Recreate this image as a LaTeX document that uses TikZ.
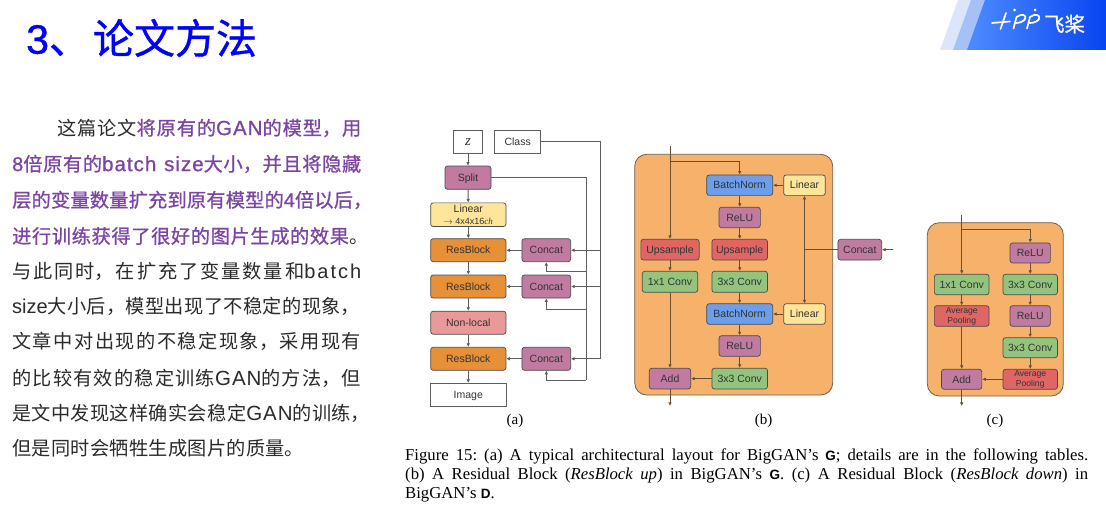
\documentclass[tikz,border=0pt]{standalone}
\usepackage{fontspec}
\usetikzlibrary{arrows.meta}
\setmainfont{Noto Sans CJK SC}
\newfontfamily\heavycjk[FakeBold=0.9]{Noto Sans CJK SC}
\newfontfamily\titlecjk[FakeBold=0.9]{Noto Sans CJK SC}
\newfontfamily\lat{Liberation Sans}
\newfontfamily\latw[LetterSpace=5]{Liberation Sans}
\newfontfamily\latwide[LetterSpace=10]{Liberation Sans}
\newfontfamily\heavylat[FakeBold=0.8]{Liberation Sans}
\newfontfamily\heavylatw[FakeBold=0.8,LetterSpace=5]{Liberation Sans}
\newfontfamily\titlelat[FakeBold=0.9]{Liberation Sans}
\newfontfamily\rmn{Liberation Serif}
\XeTeXlinebreaklocale "zh"
\XeTeXlinebreakskip=0pt plus 2pt
\tolerance=9999
\hbadness=10000
\hfuzz=5pt
\frenchspacing
\definecolor{titleblue}{HTML}{0000FF}
\definecolor{bodyblack}{HTML}{2B2B2B}
\definecolor{accent}{HTML}{7C45A4}
\definecolor{edge}{HTML}{4A4A4A}
\definecolor{wirec}{HTML}{5E5E5E}
\definecolor{panelwire}{HTML}{6A4F35}
\definecolor{labelc}{HTML}{333333}
\definecolor{fpurple}{HTML}{C27BA0}
\definecolor{forange}{HTML}{E69138}
\definecolor{fpanel}{HTML}{F6B26B}
\definecolor{fblue}{HTML}{6D9EEB}
\definecolor{fred}{HTML}{E06666}
\definecolor{fgreen}{HTML}{93C47D}
\definecolor{fyellow}{HTML}{FFE599}
\definecolor{fpink}{HTML}{EA9999}
\definecolor{bandlight}{HTML}{DCE6FB}
\definecolor{bandmid}{HTML}{A6C1F8}
\definecolor{bannerl}{HTML}{4E8CFF}
\definecolor{bannerr}{HTML}{0844F0}
% one justified line of text, stretched to the given width
\newcommand\fitline[2]{\parbox{#1}{\parfillskip=0pt\relax #2}}
\newcommand\la[1]{{\lat\fontsize{20}{23}\selectfont #1}}
\newcommand\law[1]{{\latw\fontsize{20.5}{23}\selectfont #1}}
\newcommand\lawide[1]{{\latwide\fontsize{20}{23}\selectfont #1}}
\newcommand\hla[1]{{\heavylat\fontsize{20}{23}\selectfont #1}}
\newcommand\hlaw[1]{{\heavylatw\fontsize{20.5}{23}\selectfont #1}}
\newcommand\acc[1]{{\color{accent}\heavycjk #1}}
\newcommand\sfb[1]{{\lat\bfseries\fontsize{13.5}{15}\selectfont #1}}
\tikzset{
  x=1pt,y=-1pt,
  bodytext/.style={anchor=west,inner sep=0pt,text=bodyblack,font=\fontsize{19.2}{23}\selectfont},
  captext/.style={anchor=west,inner sep=0pt,text=black,font=\rmn\fontsize{16.7}{19}\selectfont},
  sublabel/.style={inner sep=0pt,text=black,font=\rmn\fontsize{15}{18}\selectfont},
  flowbase/.style={draw=edge,rounded corners=2.5pt,line width=.7pt,inner sep=0pt,text=labelc,
    align=center,font=\lat\fontsize{10.5}{11.5}\selectfont},
  flow/.style={flowbase,text height=10pt,text depth=2.4pt},
  plain/.style={flow,sharp corners,draw=wirec,fill=white},
  pooling/.style={flowbase,fill=fred,font=\lat\fontsize{8.6}{10}\selectfont},
  panel/.style={draw=edge!80!fpanel,fill=fpanel,rounded corners=12pt,line width=.8pt},
  wire/.style={draw=wirec,line width=.9pt},
  arr/.style={wire,-{Latex[length=3.6pt,width=3.6pt]}},
  pwire/.style={draw=panelwire,line width=.8pt},
  parr/.style={pwire,-{Latex[length=3.6pt,width=3.6pt]}},
  logostroke/.style={draw=white,line width=1.7pt,line cap=round,line join=round},
}
\begin{document}
\begin{tikzpicture}
\useasboundingbox (0,0) rectangle (1106,505);
\fill[white] (0,0) rectangle (1106,505);

% brand banner
\fill[bandlight] (940,50) -- (958,0) -- (975,0) -- (957,50) -- cycle;
\fill[bandmid] (953,50) -- (971,0) -- (990,0) -- (972,50) -- cycle;
\shade[left color=bannerl,right color=bannerr]
  (967,50) -- (985,0) -- (1106,0) -- (1106,50) -- cycle;
\draw[logostroke] (992,23) -- (1010,21.5);
\draw[logostroke] (1000.5,29) -- (1006,13);
\draw[logostroke] (1013.5,28.5) -- (1016.5,17) .. controls (1022,13) and (1027,15) .. (1025,19) .. controls (1024,21) and (1020,23) .. (1016,23);
\draw[logostroke] (1027,28.5) -- (1030,17) .. controls (1035,13) and (1041,15) .. (1039,19) .. controls (1038,21) and (1034,23) .. (1030,23);
\fill[white] (1014.5,10) circle (1.5) (1035,10) circle (1.5);
\node[inner sep=0pt,text=white,font=\heavycjk\fontsize{20.5}{23}\selectfont] (brand) at (1064.5,24) {飞桨};

% heading
\node[anchor=west,inner sep=0pt,text=titleblue,font=\titlecjk\fontsize{41}{46}\selectfont] (heading) at (26,38) {{\titlelat 3}、\hspace{3pt}论文方法};

% body text
\node[bodytext] (t1) at (57,128) {\fitline{304pt}{这篇论文\acc{将原有的\hlaw{GAN}的模型，用}}};
\node[bodytext] (t2) at (12,164) {\fitline{349pt}{\acc{\hla{8}倍原有的\hlaw{batch size}大小，并且将隐藏}}};
\node[bodytext] (t3) at (12,200) {\fitline{360pt}{\acc{层的变量数量扩充到原有模型的\hla{4}倍以后，}}};
\node[bodytext] (t4) at (12,236) {\fitline{356pt}{\acc{进行训练获得了很好的图片生成的效果}。}};
\node[bodytext] (t5) at (12,271) {\fitline{349pt}{与此同时，在扩充了变量数量和\lawide{batch}}};
\node[bodytext] (t6) at (12,306) {\fitline{348pt}{\la{size}大小后，模型出现了不稳定的现象，}};
\node[bodytext] (t7) at (12,341) {\fitline{349pt}{文章中对出现的不稳定现象，采用现有}};
\node[bodytext] (t8) at (12,378) {\fitline{349pt}{的比较有效的稳定训练\law{GAN}的方法，但}};
\node[bodytext] (t9) at (12,413) {\fitline{358pt}{是文中发现这样确实会稳定\law{GAN}的训练，}};
\node[bodytext] (t10) at (12,448) {\fitline{292pt}{但是同时会牺牲生成图片的质量。}};

% (a) generator layout
\node[plain,minimum width=29.4,minimum height=23.3] (z) at (468,141.7) {\rmn\itshape\fontsize{15}{15}\selectfont z};
\node[plain,minimum width=46,minimum height=23.3] (class) at (517.7,141.7) {Class};
\node[flow,fill=fpurple,minimum width=46,minimum height=23.3] (split) at (468,177.7) {Split};
\node[flowbase,fill=fyellow,minimum width=75.3,minimum height=23.6,font=\lat\fontsize{10.5}{12.5}\selectfont] (linear) at (468.3,214.7)
  {Linear\\{\fontsize{9}{9}\selectfont $\rightarrow$ 4x4x16{\rmn\itshape ch}}};
\node[flow,fill=forange,minimum width=75.3,minimum height=23] (res1) at (468.3,250.2) {ResBlock};
\node[flow,fill=forange,minimum width=75.3,minimum height=23] (res2) at (468.3,286.5) {ResBlock};
\node[flow,fill=fpink,minimum width=75.3,minimum height=23] (nonlocal) at (468.3,322.7) {Non-local};
\node[flow,fill=forange,minimum width=75.3,minimum height=23] (res3) at (468.3,358.8) {ResBlock};
\node[plain,minimum width=75.3,minimum height=23.4] (image) at (468.3,395) {Image};
\node[flow,fill=fpurple,minimum width=48.7,minimum height=23] (con1) at (546.3,250.2) {Concat};
\node[flow,fill=fpurple,minimum width=48.7,minimum height=23] (con2) at (546.3,286.5) {Concat};
\node[flow,fill=fpurple,minimum width=48.7,minimum height=23] (con3) at (546.3,358.8) {Concat};
\node[sublabel] (capa) at (515,421) {(a)};

\coordinate (classbus) at (600,358.8);
\coordinate (splitbus) at (586.3,380.3);
\draw[arr] (z) -- (split);
\draw[arr] (split) -- (linear);
\draw[arr] (linear) -- (res1);
\draw[arr] (res1) -- (res2);
\draw[arr] (res2) -- (nonlocal);
\draw[arr] (nonlocal) -- (res3);
\draw[arr] (res3) -- (image);
\draw[arr] (con1) -- (res1);
\draw[arr] (con2) -- (res2);
\draw[arr] (con3) -- (res3);
\draw[wire] (class.east) -| (classbus);
\draw[arr] (classbus |- con1.east) -- (con1.east);
\draw[arr] (classbus |- con2.east) -- (con2.east);
\draw[arr] (classbus) -- (con3.east);
\draw[wire] (split.east) -| (splitbus);
\draw[arr] (splitbus) -| (con3.south);
\draw[arr] (586.3,271.7) -| (con1.south);
\draw[arr] (586.3,309.3) -| (con2.south);

% (b) residual block up
\draw[panel] (634.7,154.3) rectangle (832.7,395);
\node[flow,fill=fblue,minimum width=66,minimum height=20.4] (bn1) at (739.7,185.2) {BatchNorm};
\node[flow,fill=fyellow,minimum width=41.6,minimum height=20.4] (lin1) at (804.5,185.2) {Linear};
\node[flow,fill=fpurple,minimum width=41.3,minimum height=20.4] (relu1) at (739.7,217.5) {ReLU};
\node[flow,fill=fred,minimum width=58.3,minimum height=20.7] (upl) at (670,249.7) {Upsample};
\node[flow,fill=fred,minimum width=55.6,minimum height=20.7] (upr) at (739.7,249.7) {Upsample};
\node[flow,fill=fgreen,minimum width=55.4,minimum height=21] (convl) at (670,281.8) {1x1 Conv};
\node[flow,fill=fgreen,minimum width=55.6,minimum height=21] (convr) at (739.7,281.8) {3x3 Conv};
\node[flow,fill=fblue,minimum width=66,minimum height=20.6] (bn2) at (739.7,314) {BatchNorm};
\node[flow,fill=fyellow,minimum width=41.6,minimum height=20.6] (lin2) at (804.5,314) {Linear};
\node[flow,fill=fpurple,minimum width=41.3,minimum height=20.6] (relu2) at (739.7,346) {ReLU};
\node[flow,fill=fpurple,minimum width=41.4,minimum height=20.7] (addb) at (670,378.6) {Add};
\node[flow,fill=fgreen,minimum width=55.6,minimum height=20.7] (conv3) at (739.7,378.6) {3x3 Conv};
\node[flow,fill=fpurple,minimum width=43.7,minimum height=20.7] (conb) at (859.8,249.7) {Concat};
\node[sublabel] (capb) at (763.5,421) {(b)};

\coordinate (inb) at (670,146);
\coordinate (forkb) at (670,161.7);
\coordinate (outb) at (670,406);
\coordinate (inc) at (893,249.7);
\coordinate (jb) at (804.5,249.7);
\draw[parr] (inb) -- (upl);
\draw[parr] (forkb) -| (bn1.north);
\draw[parr] (bn1) -- (relu1);
\draw[parr] (relu1) -- (upr);
\draw[parr] (upr) -- (convr);
\draw[parr] (convr) -- (bn2);
\draw[parr] (bn2) -- (relu2);
\draw[parr] (relu2) -- (conv3);
\draw[parr] (upl) -- (convl);
\draw[parr] (convl) -- (addb);
\draw[parr] (conv3) -- (addb);
\draw[parr] (addb) -- (outb);
\draw[parr] (lin1) -- (bn1);
\draw[parr] (lin2) -- (bn2);
\draw[pwire] (conb.west) -- (jb);
\draw[parr] (jb) -- (lin1.south);
\draw[parr] (jb) -- (lin2.north);
\draw[parr] (inc) -- (conb.east);

% (c) residual block down
\draw[panel] (927.3,222.7) rectangle (1063.3,396);
\node[flow,fill=fpurple,minimum width=40.3,minimum height=20] (rc1) at (1030.2,253) {ReLU};
\node[flow,fill=fgreen,minimum width=54.4,minimum height=20.4] (cc1) at (1030.2,284.5) {3x3 Conv};
\node[flow,fill=fgreen,minimum width=54.7,minimum height=20.4] (cl) at (961.7,284.5) {1x1 Conv};
\node[pooling,minimum width=54.7,minimum height=20.6] (al) at (961.7,316) {Average\\Pooling};
\node[flow,fill=fpurple,minimum width=40.3,minimum height=20.6] (rc2) at (1030.2,316) {ReLU};
\node[flow,fill=fgreen,minimum width=54.4,minimum height=20] (cc2) at (1030.2,347.7) {3x3 Conv};
\node[pooling,minimum width=54.4,minimum height=20] (ar) at (1030.2,379.3) {Average\\Pooling};
\node[flow,fill=fpurple,minimum width=40.3,minimum height=20] (addc) at (961.7,379.3) {Add};
\node[sublabel] (capc) at (995,421) {(c)};

\coordinate (inl) at (961.7,215);
\coordinate (forkc) at (961.7,229.3);
\coordinate (outc) at (961.7,406);
\draw[parr] (inl) -- (cl);
\draw[parr] (forkc) -| (rc1.north);
\draw[parr] (rc1) -- (cc1);
\draw[parr] (cc1) -- (rc2);
\draw[parr] (rc2) -- (cc2);
\draw[parr] (cc2) -- (ar);
\draw[parr] (ar) -- (addc);
\draw[parr] (cl) -- (al);
\draw[parr] (al) -- (addc);
\draw[parr] (addc) -- (outc);

% figure caption
\node[captext] (cap1) at (405,456.3) {\fitline{683pt}{Figure 15: (a) A typical architectural layout for BigGAN’s \sfb{G}; details are in the following tables.}};
\node[captext] (cap2) at (405,475.3) {\fitline{683pt}{(b) A Residual Block ({\itshape ResBlock up}) in BigGAN’s \sfb{G}. (c) A Residual Block ({\itshape ResBlock down}) in}};
\node[captext] (cap3) at (405,494.3) {BigGAN’s \sfb{D}.};
\end{tikzpicture}
\end{document}
